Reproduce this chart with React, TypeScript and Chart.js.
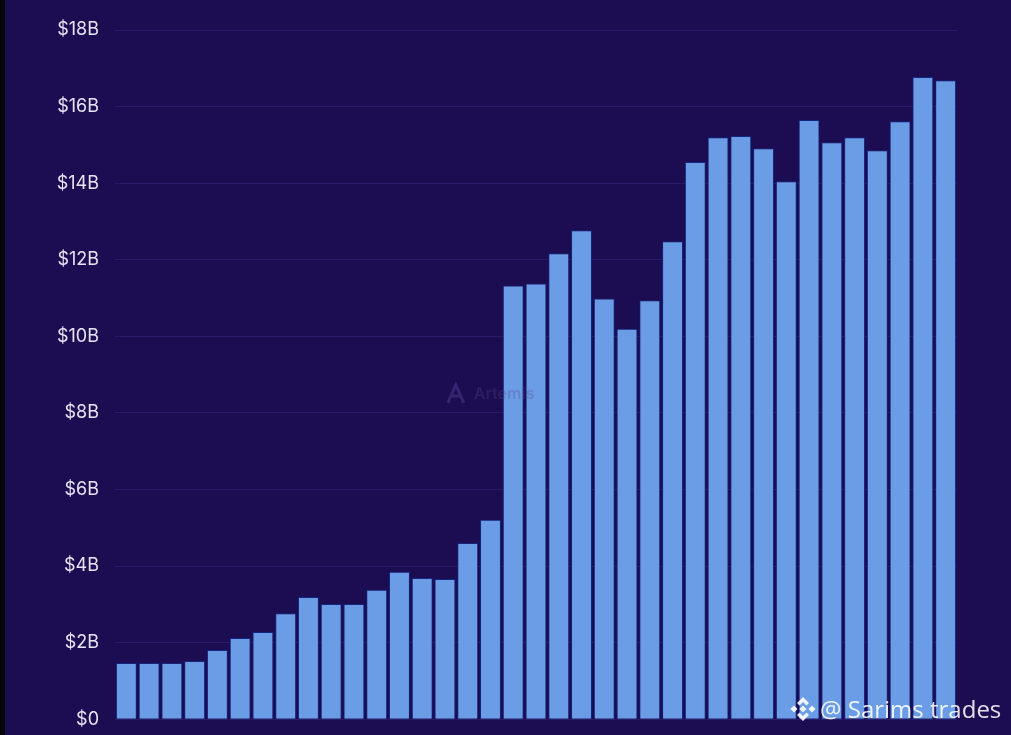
import React, { useEffect, useRef } from "react";
import { Chart, registerables } from "chart.js";

Chart.register(...registerables);

const periods: string[] = Array.from({ length: 37 }, (_, i) => `P${i + 1}`);
const values: number[] = [
  1.47, 1.47, 1.47, 1.52, 1.81, 2.12, 2.28, 2.77, 3.19, 3.01, 3.01, 3.38, 3.85,
  3.69, 3.66, 4.6, 5.21, 11.33, 11.38, 12.17, 12.77, 10.99, 10.2, 10.94, 12.48,
  14.55, 15.2, 15.23, 14.91, 14.05, 15.65, 15.07, 15.2, 14.86, 15.62, 16.77, 16.69,
];
const yTicks: number[] = [0, 2, 4, 6, 8, 10, 12, 14, 16, 18];

const BG = "#1c0c52";

const watermarkPlugin = {
  id: "artemisMark",
  afterDatasetsDraw(chart: any) {
    const { ctx, chartArea } = chart;
    const x0 = chartArea.left + (chartArea.right - chartArea.left) * 0.4;
    const cy = chartArea.top + (chartArea.bottom - chartArea.top) * 0.528;
    ctx.save();
    ctx.globalAlpha = 0.3;
    ctx.strokeStyle = "#6a5fb0";
    ctx.lineWidth = 3;
    ctx.beginPath();
    ctx.moveTo(x0 - 4, cy + 9);
    ctx.lineTo(x0 + 4, cy - 9);
    ctx.lineTo(x0 + 12, cy + 9);
    ctx.moveTo(x0, cy + 2);
    ctx.lineTo(x0 + 9, cy + 2);
    ctx.stroke();
    ctx.fillStyle = "#554a90";
    ctx.font = "600 16px Inter, sans-serif";
    ctx.textBaseline = "middle";
    ctx.textAlign = "left";
    ctx.fillText("Artemis", x0 + 22, cy);
    ctx.restore();
  },
};

export default function App() {
  const ref = useRef<HTMLCanvasElement | null>(null);

  useEffect(() => {
    document.body.style.margin = "0";
    document.body.style.background = BG;
    if (!ref.current) return;
    const chart = new Chart(ref.current, {
      type: "bar",
      data: {
        labels: periods,
        datasets: [
          {
            data: values,
            backgroundColor: "#6a9de5",
            borderColor: "#14257f",
            borderWidth: 1,
            categoryPercentage: 1,
            barPercentage: 0.92,
          },
        ],
      },
      plugins: [watermarkPlugin],
      options: {
        animation: false,
        responsive: false,
        maintainAspectRatio: false,
        layout: { padding: { top: 30, bottom: 7, right: 54, left: 0 } },
        plugins: { legend: { display: false }, tooltip: { enabled: false } },
        scales: {
          x: { display: false },
          y: {
            min: 0,
            max: 18,
            afterFit: (s: any) => {
              s.width = 115;
            },
            afterBuildTicks: (s: any) => {
              s.ticks = yTicks.map((v) => ({ value: v }));
            },
            border: { display: false },
            grid: { color: "#281c68", drawTicks: false, lineWidth: 1 },
            ticks: {
              padding: 16,
              color: "#e6e4f2",
              font: { family: "Inter, sans-serif", size: 18 },
              callback: (v: any) => (Number(v) === 0 ? "$0" : `$${v}B`),
            },
          },
        },
      },
    });
    return () => chart.destroy();
  }, []);

  return (
    <div style={{ position: "relative", width: 1011, height: 735, background: BG, overflow: "hidden" }}>
      <div style={{ position: "absolute", left: 0, top: 0, width: 5, height: 735, background: "#050505" }} />
      <canvas ref={ref} width={1011} height={746} style={{ position: "absolute", left: 0, top: 0 }} />
      <div
        style={{
          position: "absolute",
          left: 788,
          top: 694,
          display: "flex",
          alignItems: "center",
          color: "rgba(255,255,255,0.88)",
          fontFamily: "'Open Sans', sans-serif",
          fontSize: 24,
          lineHeight: "30px",
          whiteSpace: "nowrap",
        }}
      >
        <svg width="30" height="30" viewBox="0 0 30 30" style={{ marginRight: 2 }}>
          <g fill="rgba(255,255,255,0.9)">
            <path d="M15 3 L21 9 L18.5 11.5 L15 8 L11.5 11.5 L9 9 Z" />
            <path d="M15 27 L21 21 L18.5 18.5 L15 22 L11.5 18.5 L9 21 Z" />
            <rect x="12.5" y="12.5" width="5" height="5" transform="rotate(45 15 15)" />
            <rect x="3.5" y="12.5" width="5" height="5" transform="rotate(45 6 15)" />
            <rect x="21.5" y="12.5" width="5" height="5" transform="rotate(45 24 15)" />
          </g>
        </svg>
        <span>@ Sarims trades</span>
      </div>
    </div>
  );
}
